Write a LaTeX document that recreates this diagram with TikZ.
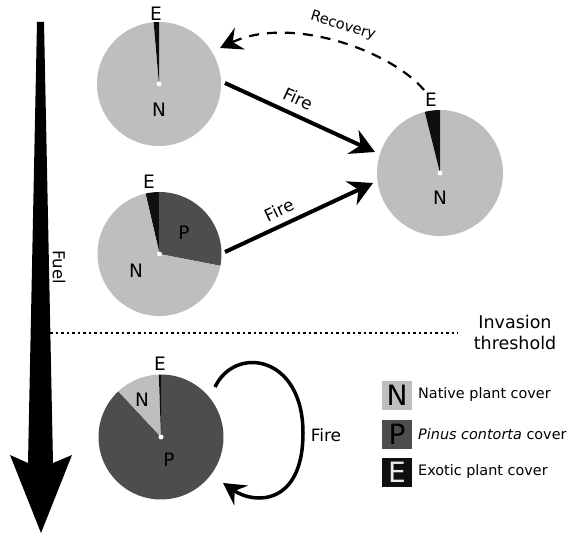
\documentclass[tikz,border=0pt]{standalone}
\usepackage{fontspec}
\setmainfont{DejaVu Sans}
\usetikzlibrary{arrows.meta}
\definecolor{cnat}{RGB}{190,190,190}
\definecolor{cpin}{RGB}{77,77,77}
\definecolor{cexo}{RGB}{15,15,15}
\newcommand\mypieslice[5]{%
  \fill[color=#5] (#1) -- ++(#3:#2) arc[start angle=#3, end angle=#4, radius=#2] -- cycle;}
\begin{document}
\begin{tikzpicture}[x=1pt,y=1pt,
  lab/.style={font=\fontsize{18.5}{20}\selectfont, inner sep=0pt},
  firelab/.style={font=\fontsize{17}{19}\selectfont, inner sep=0pt},
  legtext/.style={font=\fontsize{14.4}{17}\selectfont, inner sep=0pt, anchor=west},
  legbox/.style={minimum width=30pt, minimum height=29pt, inner sep=0pt, font=\fontsize{28}{28}\selectfont},
  head/.style={-{Stealth[length=24pt,width=26pt,inset=8pt]}},
  smallhead/.style={-{Stealth[length=22pt,width=24pt,inset=8pt]}}]
\useasboundingbox (0,0) rectangle (567,536);

% Fuel arrow
\fill[black] (37,514) -- (44,514) -- (53,73) -- (72,81) -- (41,3) -- (10,81) -- (28,73) -- cycle;
\node[font=\fontsize{16.5}{19}\selectfont, rotate=-90, inner sep=0pt] (fuel) at (59,269) {Fuel};

% threshold
\coordinate (d1) at (50,203);
\coordinate (d2) at (458,203);
\draw[line width=2.5pt, dash pattern=on 2.5pt off 3pt] (d1) -- (d2);
\node[align=center, font=\fontsize{17.5}{21}\selectfont, inner sep=0pt] (thr) at (515,204) {Invasion\\threshold};

% Pie 1
\coordinate (c1) at (159,452);
\mypieslice{c1}{62}{95}{450}{cnat}
\mypieslice{c1}{62}{90}{95}{cexo}
\fill[white] (c1) circle[radius=2.5];
\node[lab] (e1) at (156,522) {E};
\node[lab] (n1) at (159,426) {N};

% Pie 2
\coordinate (c2) at (440,363);
\mypieslice{c2}{63}{104}{450}{cnat}
\mypieslice{c2}{63}{90}{104}{cexo}
\fill[white] (c2) circle[radius=2.5];
\node[lab] (e2) at (431,436) {E};
\node[lab] (n2) at (440,338) {N};

% Pie 3
\coordinate (c3) at (159.5,282);
\mypieslice{c3}{62}{-11}{90}{cpin}
\mypieslice{c3}{62}{90}{103}{cexo}
\mypieslice{c3}{62}{103}{349}{cnat}
\fill[white] (c3) circle[radius=2.5];
\node[lab] (e3) at (149,354) {E};
\node[lab] (p3) at (184,303) {P};
\node[lab] (n3) at (136,265) {N};

% Pie 4
\coordinate (c4) at (161,99);
\mypieslice{c4}{62.5}{133}{450}{cpin}
\mypieslice{c4}{62.5}{92}{133}{cnat}
\mypieslice{c4}{62.5}{90}{92}{cexo}
\fill[white] (c4) circle[radius=2.5];
\node[lab] (e4) at (160,172) {E};
\node[lab] (n4) at (142,136) {N};
\node[lab] (p4) at (169,76) {P};

% Fire arrows
\coordinate (f1s) at (225,453);
\coordinate (f1e) at (375,384);
\draw[line width=4pt, head] (f1s) -- (f1e);
\node[firelab, rotate=-24.7] (fire1) at (298,437) {Fire};

\coordinate (f2s) at (225,284);
\coordinate (f2e) at (373,353);
\draw[line width=4pt, head] (f2s) -- (f2e);
\node[firelab, rotate=25] (fire2) at (279,326) {Fire};

% Recovery
\coordinate (rs) at (424,446);
\coordinate (re) at (220,488);
\draw[line width=2.2pt, dash pattern=on 10pt off 8pt, smallhead] (rs) .. controls (390,486) and (290,521) .. (re);
\node[font=\fontsize{14.5}{17}\selectfont, rotate=-17, inner sep=0pt] (rec) at (343,510) {Recovery};

% Loop
\coordinate (ls) at (215,149);
\coordinate (lm) at (303,103);
\coordinate (le) at (223,53);
\draw[line width=3.5pt, smallhead] (ls) .. controls (235,191) and (303,181) .. (lm) .. controls (303,31) and (255,31) .. (le);
\node[firelab] (fire3) at (326,101) {Fire};

% Legend
\node[legbox, fill=cnat, text=black] (ln) at (397,140.5) {N};
\node[legbox, fill=cpin, text=black] (lp) at (397,102) {P};
\node[legbox, fill=cexo, text=white!92!black] (lex) at (397,63.5) {E};
\node[legtext] (lnt) at (418,141) {Native plant cover};
\node[legtext] (lpt) at (418,102) {\textit{Pinus contorta} cover};
\node[legtext] (let) at (418,64) {Exotic plant cover};
\end{tikzpicture}
\end{document}
